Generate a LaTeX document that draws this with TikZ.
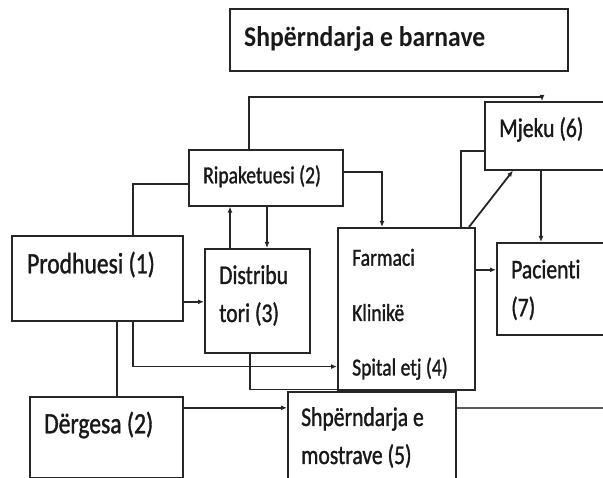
\documentclass[tikz,border=0pt]{standalone}
\usepackage{fontspec}
\usetikzlibrary{arrows.meta}
\newfontfamily\labfont[FakeStretch=0.8,FakeBold=1.2,Ligatures=NoCommon]{Carlito}
\newfontfamily\titfont[FakeStretch=0.9,Ligatures=NoCommon]{Carlito}
\newcommand{\labbig}{\labfont\fontsize{29.5}{30}\selectfont}
\newcommand{\labmid}{\labfont\fontsize{27}{28}\selectfont}
\newcommand{\labsml}{\labfont\fontsize{24.5}{25}\selectfont}
\tikzset{
  box/.style={draw=black!85, line width=1.6pt, anchor=north west, inner sep=0pt},
  lab/.style={anchor=base west, inner sep=0pt, text=black!90},
  link/.style={draw=black!85, line width=1.8pt},
  arr/.style={link, -{Latex[length=6pt,width=5pt]}}
}
\begin{document}
\begin{tikzpicture}[x=1pt,y=-1pt]
        \useasboundingbox (0,0) rectangle (603,478);
        \clip (0,0) rectangle (603,478);
        % boxes
        \node[box, minimum width=338pt, minimum height=62pt] (title) at (229,8) {};
        \node[box, minimum width=154pt, minimum height=56pt] (ripak) at (188,149) {};
        \node[box, minimum width=171pt, minimum height=85pt] (prod) at (11,235) {};
        \node[box, minimum width=105pt, minimum height=104pt] (distr) at (204,248) {};
        \node[box, minimum width=137pt, minimum height=162pt] (farm) at (337,227) {};
        \node[box, minimum width=140pt, minimum height=68pt] (mjeku) at (484,101) {};
        \node[box, minimum width=130pt, minimum height=92pt] (pac) at (496,242) {};
        \node[box, minimum width=153pt, minimum height=81pt] (derg) at (29,396) {};
        \node[box, minimum width=168pt, minimum height=110pt] (shp) at (287,391) {};
        % texts
        \node[lab, font=\titfont\bfseries\fontsize{28.5}{29}\selectfont] (titletxt) at (244,46.7) {Shpërndarja e barnave};
        \node[lab, font=\labsml] (ripaktxt) at (203,183.3) {Ripaketuesi (2)};
        \node[lab, font=\labbig] (prodtxt) at (27,273.3) {Prodhuesi (1)};
        \node[lab, font=\labmid] (distrtxta) at (219,284) {Distribu};
        \node[lab, font=\labmid] (distrtxtb) at (219,322) {tori (3)};
        \node[lab, font=\labsml] (farmtxta) at (352,265.7) {Farmaci};
        \node[lab, font=\labsml] (farmtxtb) at (352,321) {Klinikë};
        \node[lab, font=\labsml] (farmtxtc) at (352,375.5) {Spital etj (4)};
        \node[lab, font=\labmid] (mjekutxt) at (499,137) {Mjeku (6)};
        \node[lab, font=\labmid] (pactxta) at (511,278.3) {Pacienti};
        \node[lab, font=\labmid] (pactxtb) at (511,316.3) {(7)};
        \node[lab, font=\labbig] (dergtxt) at (44,433.3) {Dërgesa (2)};
        \node[lab, font=\labmid] (shptxta) at (301,426) {Shpërndarja e};
        \node[lab, font=\labmid] (shptxtb) at (301,464) {mostrave (5)};
        % connectors
        \coordinate (topline) at (400,97);
        \coordinate (edge) at (603,408);
        \draw[arr] ([xshift=61pt]ripak.north west) |- (topline) -| ([xshift=58pt]mjeku.north west);
        \draw[link] ([yshift=-6pt]ripak.west) -| ([xshift=122pt]prod.north west);
        \draw[arr] ([xshift=26pt]distr.north west) -- ([xshift=26pt]distr.north west |- ripak.south);
        \draw[arr] ([xshift=63pt]distr.north west |- ripak.south) -- ([xshift=63pt]distr.north west);
        \draw[arr] ([yshift=6pt]ripak.east) -| ([xshift=45pt]farm.north west);
        \draw[link] ([xshift=124pt]farm.north west) |- ([yshift=-15pt]mjeku.west);
        \draw[arr] ([xshift=132pt]farm.north west) -- ([xshift=29pt]mjeku.south west);
        \draw[arr] ([xshift=57pt]mjeku.south west) -- ([xshift=57pt]mjeku.south west |- pac.north);
        \draw[arr] ([yshift=39pt]farm.east) -- ([yshift=39pt]farm.east -| pac.west);
        \draw[arr] ([yshift=-23.5pt]prod.east) -- ([yshift=-23.5pt]prod.east -| distr.west);
        \draw[arr] ([xshift=122pt]prod.south west) |- ([yshift=24pt]farm.south west);
        \draw[link] ([xshift=106pt]prod.south west) -- ([xshift=106pt]prod.south west |- derg.north);
        \draw[link] ([xshift=46pt]distr.south west) |- ([yshift=1pt]farm.south west);
        \draw[arr] ([yshift=29.5pt]derg.east) -- ([yshift=29.5pt]derg.east -| shp.west);
        \draw[link, draw=black!65, line width=2.6pt] ([yshift=-17pt]shp.north east) -- (edge);
    \end{tikzpicture}
\end{document}
